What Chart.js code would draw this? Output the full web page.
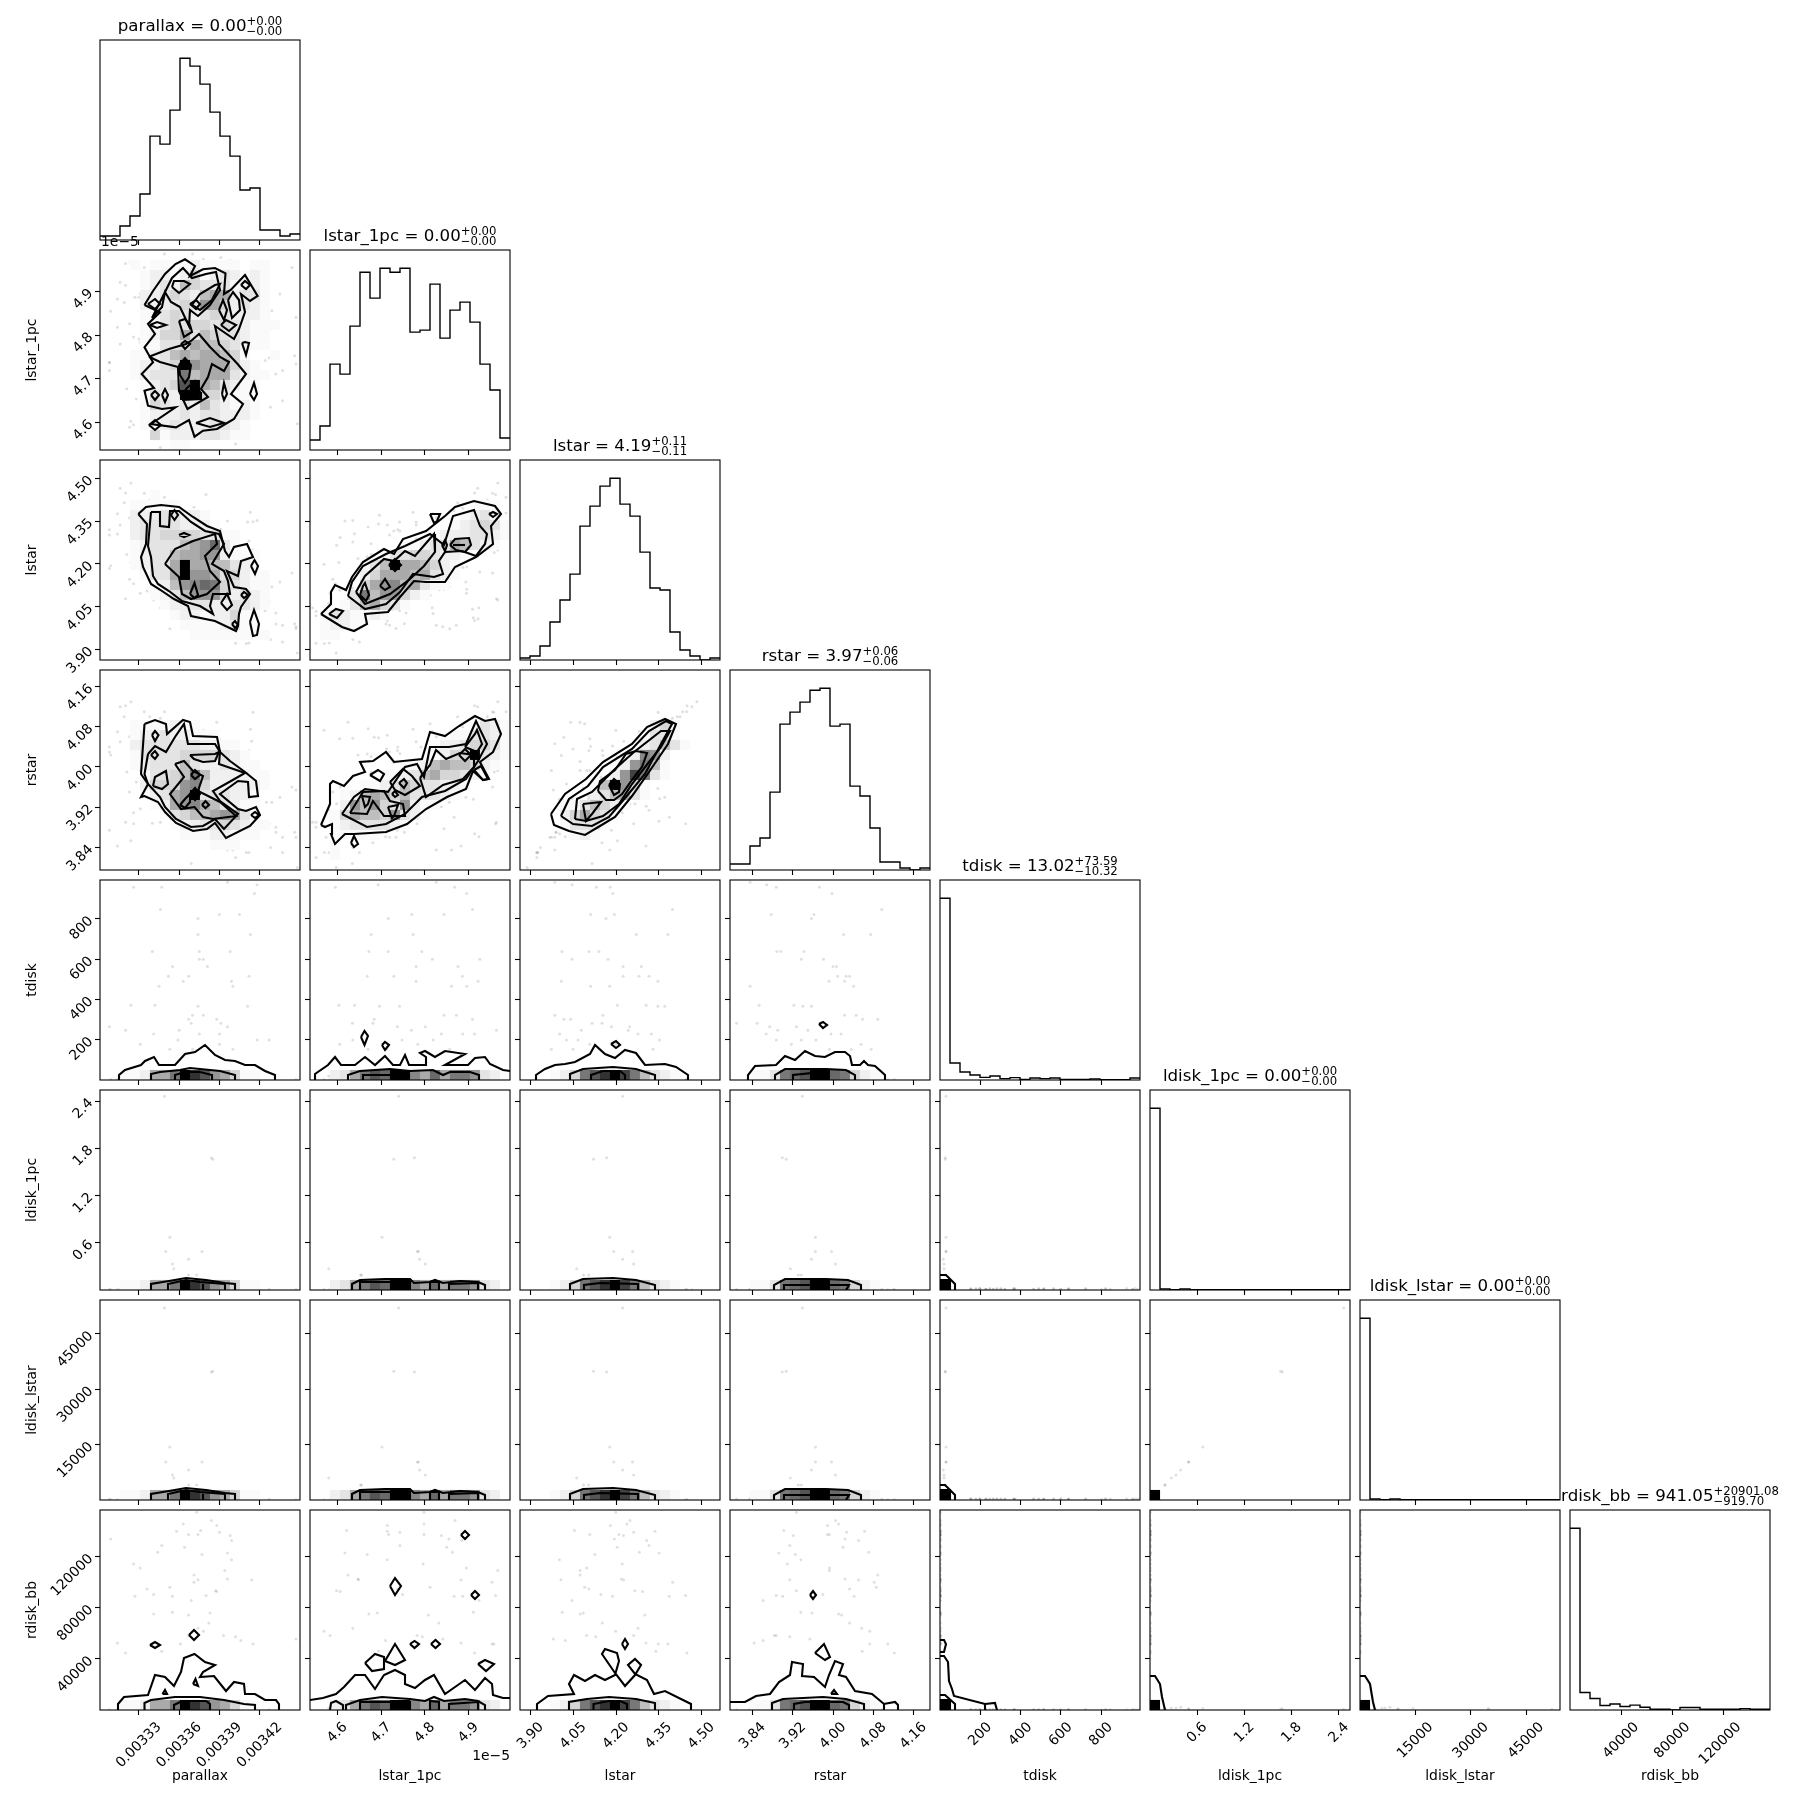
<!DOCTYPE html>
<html>
<head>
<meta charset="utf-8">
<title>corner plot</title>
<script src="https://cdn.jsdelivr.net/npm/chart.js@4"></script>
<style>
html, body { margin: 0; background: #fff; overflow: hidden; }
#corner { position: relative; width: 1809px; height: 1809px; }
canvas { position: absolute; }
</style>
</head>
<body>
<div id="corner"></div>
<script>
const names = ['parallax', 'lstar_1pc', 'lstar', 'rstar', 'tdisk', 'ldisk_1pc', 'ldisk_lstar', 'rdisk_bb'];
const titles = [
  ['parallax = 0.00', '+0.00', '\u22120.00'],
  ['lstar_1pc = 0.00', '+0.00', '\u22120.00'],
  ['lstar = 4.19', '+0.11', '\u22120.11'],
  ['rstar = 3.97', '+0.06', '\u22120.06'],
  ['tdisk = 13.02', '+73.59', '\u221210.32'],
  ['ldisk_1pc = 0.00', '+0.00', '\u22120.00'],
  ['ldisk_lstar = 0.00', '+0.00', '\u22120.00'],
  ['rdisk_bb = 941.05', '+20901.08', '\u2212919.70']
];
const tickLabels = [
  ['0.00333', '0.00336', '0.00339', '0.00342'],
  ['4.6', '4.7', '4.8', '4.9'],
  ['3.90', '4.05', '4.20', '4.35', '4.50'],
  ['3.84', '3.92', '4.00', '4.08', '4.16'],
  ['200', '400', '600', '800'],
  ['0.6', '1.2', '1.8', '2.4'],
  ['15000', '30000', '45000'],
  ['40000', '80000', '120000']
];
const ranges = [[0.003301, 0.00345], [4.537, 4.995], [3.863, 4.565], [3.795, 4.193], [0, 993], [0, 2.54], [0, 54200], [0, 156500]];

// marginal histograms, 20 bins each
const histParallax = [2, 2, 7, 12, 23, 52, 48, 65, 91, 87, 78, 64, 52, 42, 25, 26, 5, 5, 2, 3];
const histLstar1pc = [5, 12, 43, 38, 62, 89, 76, 91, 89, 91, 59, 60, 83, 56, 70, 74, 64, 43, 30, 6];
const histLstar = [1, 2, 7, 19, 30, 43, 67, 77, 87, 91, 78, 72, 54, 36, 35, 14, 5, 2, 0, 1];
const histRstar = [3, 3, 12, 16, 39, 73, 79, 84, 90, 91, 72, 73, 42, 37, 21, 4, 4, 1, 0, 1];
const histTdisk = [546, 51, 24, 15, 8, 12, 4, 7, 2, 6, 4, 6, 2, 2, 2, 3, 1, 1, 1, 6];
const histLdisk1pc = [546, 3, 1, 3, 1, 1, 1, 1, 1, 1, 1, 1, 1, 1, 1, 1, 1, 1, 1, 1];
const histLdiskLstar = [546, 3, 1, 3, 1, 1, 1, 1, 1, 1, 1, 1, 1, 1, 1, 1, 1, 1, 1, 1];
const histRdisk = [519, 50, 33, 13, 17, 10, 14, 8, 2, 2, 0, 7, 7, 2, 2, 2, 2, 4, 2, 2];
const hists = [histParallax, histLstar1pc, histLstar, histRstar, histTdisk, histLdisk1pc, histLdiskLstar, histRdisk];

// posterior samples: 11 bright-disk, 50 hot-disk, 52 wide-disk, then 44 samples with only stellar columns
const sampleParallax = [
  3.349, 3.385, 3.384, 3.353, 3.350, 3.377, 3.367, 3.355, 3.356, 3.367, 3.373,
  3.396, 3.418, 3.326, 3.347, 3.416, 3.346, 3.390, 3.405, 3.374, 3.374,
  3.413, 3.340, 3.375, 3.398, 3.375, 3.378, 3.355, 3.381, 3.352, 3.367,
  3.412, 3.363, 3.399, 3.345, 3.400, 3.324, 3.342, 3.374, 3.411, 3.370,
  3.378, 3.367, 3.388, 3.369, 3.391, 3.308, 3.396, 3.360, 3.341, 3.390,
  3.359, 3.427, 3.331, 3.390, 3.370, 3.400, 3.353, 3.375, 3.320, 3.418,
  3.373, 3.384, 3.363, 3.388, 3.376, 3.358, 3.390, 3.374, 3.367, 3.398,
  3.309, 3.399, 3.347, 3.364, 3.344, 3.396, 3.377, 3.399, 3.326, 3.331,
  3.394, 3.371, 3.374, 3.396, 3.414, 3.371, 3.353, 3.336, 3.387, 3.388,
  3.341, 3.327, 3.355, 3.380, 3.369, 3.355, 3.383, 3.341, 3.367, 3.382,
  3.374, 3.378, 3.367, 3.393, 3.402, 3.447, 3.406, 3.314, 3.361, 3.415, 3.347, 3.320,
  3.316, 3.324, 3.330, 3.334, 3.338, 3.349, 3.378, 3.385, 3.398, 3.415,
  3.417, 3.429, 3.425, 3.435, 3.444, 3.308, 3.314, 3.323, 3.316, 3.330,
  3.321, 3.328, 3.323, 3.308, 3.416, 3.424, 3.432, 3.446, 3.447, 3.437,
  3.437, 3.428, 3.412, 3.410, 3.402, 3.362, 3.355, 3.346, 3.448, 3.391,
  3.370, 3.391, 3.319, 3.432
];
const sampleLstar1pc = [
  4.740, 4.729, 4.776, 4.702, 4.783, 4.785, 4.788, 4.801, 4.580, 4.653, 4.655,
  4.826, 4.693, 4.595, 4.868, 4.896, 4.909, 4.770, 4.844, 4.716, 4.677,
  4.773, 4.672, 4.716, 4.793, 4.817, 4.926, 4.876, 4.780, 4.668, 4.729,
  4.886, 4.780, 4.922, 4.896, 4.861, 4.603, 4.639, 4.696, 4.742, 4.844,
  4.872, 4.684, 4.909, 4.634, 4.681, 4.737, 4.801, 4.769, 4.838, 4.887,
  4.819, 4.748, 4.784, 4.605, 4.670, 4.712, 4.857, 4.914, 4.964, 4.635,
  4.798, 4.869, 4.798, 4.714, 4.621, 4.714, 4.743, 4.798, 4.717, 4.838,
  4.855, 4.885, 4.743, 4.850, 4.863, 4.617, 4.668, 4.714, 4.796, 4.895,
  4.967, 4.624, 4.648, 4.647, 4.883, 4.954, 4.812, 4.737, 4.598, 4.606,
  4.749, 4.887, 4.867, 4.962, 4.924, 4.911, 4.691, 4.672, 4.808, 4.832,
  4.635, 4.569, 4.583, 4.782, 4.794, 4.841, 4.710, 4.883, 4.954, 4.958, 4.694, 4.914,
  4.921, 4.967, 4.887, 4.955, 4.943, 4.986, 4.974, 4.963, 4.971, 4.967,
  4.959, 4.856, 4.833, 4.894, 4.955, 4.738, 4.818, 4.826, 4.780, 4.791,
  4.677, 4.654, 4.589, 4.719, 4.726, 4.742, 4.757, 4.753, 4.734, 4.719,
  4.650, 4.635, 4.581, 4.570, 4.551, 4.551, 4.551, 4.543, 4.597, 4.574,
  4.986, 4.978, 4.875, 4.711
];
const sampleLstar = [
  4.223, 4.121, 4.167, 4.178, 4.192, 4.258, 4.223, 4.262, 4.062, 4.086, 4.104,
  3.985, 4.046, 4.131, 4.180, 4.189, 4.398, 4.194, 4.111, 4.165, 4.271,
  4.382, 4.140, 4.010, 4.105, 4.046, 4.172, 4.225, 4.289, 4.225, 4.316,
  4.281, 4.347, 4.008, 4.111, 4.178, 4.205, 4.306, 4.371, 4.347, 4.154,
  3.985, 4.017, 4.041, 4.116, 4.151, 4.184, 4.248, 4.243, 4.277, 4.324,
  4.026, 4.067, 4.199, 4.108, 4.330, 4.049, 3.973, 4.002, 4.078, 4.353,
  4.199, 4.249, 4.238, 4.180, 4.054, 4.337, 4.262, 4.108, 4.210, 4.226,
  4.194, 4.308, 4.316, 4.204, 4.282, 4.351, 4.126, 4.001, 4.222, 4.097,
  4.074, 4.074, 4.007, 4.219, 4.227, 4.399, 4.090, 4.105, 4.266, 4.293,
  4.147, 4.188, 4.387, 4.444, 4.046, 4.011, 4.085, 4.074, 4.301, 4.152,
  4.277, 4.199, 4.097, 4.262, 4.129, 3.980, 4.022, 4.305, 4.382, 4.348, 4.340, 4.449,
  4.466, 4.484, 4.396, 4.448, 4.425, 4.434, 4.349, 4.320, 4.296, 4.249,
  4.240, 4.120, 4.110, 4.137, 4.168, 4.320, 4.376, 4.361, 4.337, 4.309,
  4.233, 4.194, 4.146, 4.302, 4.040, 4.036, 4.028, 3.990, 3.974, 3.985,
  3.926, 3.935, 3.923, 3.921, 3.922, 4.018, 4.034, 4.046, 3.888, 3.968,
  4.379, 4.321, 4.415, 3.989
];
const sampleRstar = [
  3.939, 3.907, 3.899, 3.965, 3.965, 3.997, 3.957, 4.005, 3.915, 3.931, 3.937,
  3.835, 3.868, 3.887, 3.973, 3.998, 4.097, 3.962, 3.877, 3.957, 4.021,
  4.075, 3.888, 3.896, 3.942, 3.937, 3.981, 4.000, 4.007, 4.026, 4.009,
  4.033, 3.992, 4.023, 4.041, 3.835, 3.853, 3.922, 3.940, 3.957, 4.023,
  4.046, 4.059, 4.089, 3.808, 3.849, 3.874, 3.927, 3.950, 3.996, 4.016,
  3.966, 3.887, 3.917, 4.056, 4.076, 4.036, 3.993, 3.867, 3.890, 3.937,
  3.927, 4.005, 4.011, 3.989, 3.902, 4.063, 4.027, 3.993, 3.989, 3.921,
  4.024, 4.051, 3.914, 4.020, 4.071, 3.892, 3.925, 3.936, 3.909, 3.993,
  3.993, 4.089, 3.914, 4.024, 4.051, 4.082, 4.086, 4.033, 3.927, 3.960,
  3.980, 4.042, 3.900, 3.887, 3.861, 3.936, 3.958, 4.011, 4.017, 4.033,
  4.057, 4.073, 3.883, 3.887, 3.914, 3.954, 3.861, 3.843, 4.073, 4.109, 4.058, 4.122,
  4.12, 4.13, 4.08, 4.11, 4.10, 4.11, 4.06, 4.04, 4.03, 4.00,
  3.99, 3.93, 3.93, 3.94, 3.96, 4.04, 4.07, 4.06, 4.05, 4.04,
  3.99, 3.97, 3.95, 4.03, 3.89, 3.89, 3.88, 3.87, 3.86, 3.86,
  3.83, 3.84, 3.83, 3.83, 3.82, 3.88, 3.89, 3.89, 3.80, 3.86,
  4.07, 4.04, 4.10, 3.87
];
const sampleTdisk = [
  30, 26, 26, 30, 30, 30, 16, 20, 20, 25, 25,
  982, 970, 957, 957, 926, 846, 822, 822, 802, 723,
  723, 638, 638, 638, 599, 599, 564, 564, 515, 515,
  515, 490, 490, 465, 465, 371, 371, 366, 366, 322,
  322, 302, 302, 282, 282, 264, 264, 247, 228, 228,
  198, 198, 178, 178, 153, 153, 153, 228, 247, 198,
  2, 3, 2, 2, 3, 2, 2, 3, 2, 2, 3, 2, 2, 3, 2, 2, 3, 2, 2, 3, 2, 2, 3, 2, 2, 3,
  2, 2, 3, 2, 2, 3, 2, 2, 3, 2, 2, 3, 2, 2, 3, 2, 2, 3, 2, 2, 3, 2, 2, 3, 2, 2
];
const sampleLdisk1pc = [
  2.46, 1.66, 1.68, 0.67, 0.49, 0.49, 0.39, 0.33, 0.27, 0.19, 0.19,
  0.01, 0.02, 0.01, 0.01, 0.02, 0.01, 0.01, 0.02, 0.01, 0.01,
  0.02, 0.01, 0.01, 0.02, 0.01, 0.01, 0.02, 0.01, 0.01, 0.02,
  0.01, 0.01, 0.02, 0.01, 0.01, 0.02, 0.01, 0.01, 0.02, 0.01,
  0.01, 0.02, 0.01, 0.01, 0.02, 0.01, 0.01, 0.02, 0.01, 0.01,
  0.02, 0.01, 0.01, 0.02, 0.01, 0.01, 0.02, 0.01, 0.01, 0.02,
  0.005, 0.004, 0.005, 0.006, 0.004, 0.005, 0.006, 0.004, 0.005, 0.006, 0.004, 0.005, 0.006,
  0.004, 0.005, 0.006, 0.004, 0.005, 0.006, 0.004, 0.005, 0.006, 0.004, 0.005, 0.006, 0.004,
  0.005, 0.006, 0.004, 0.005, 0.006, 0.004, 0.005, 0.006, 0.004, 0.005, 0.006, 0.004, 0.005,
  0.006, 0.004, 0.005, 0.006, 0.004, 0.005, 0.006, 0.004, 0.005, 0.006, 0.004, 0.005, 0.006, 0.004
];
const sampleLdiskLstar = [
  52000, 34900, 34700, 14350, 10300, 10300, 8100, 6770, 5960, 4060, 4060,
  250, 300, 220, 260, 310, 240, 280, 300, 230, 270,
  250, 300, 220, 260, 310, 240, 280, 300, 230, 270,
  250, 300, 220, 260, 310, 240, 280, 300, 230, 270,
  250, 300, 220, 260, 310, 240, 280, 300, 230, 270,
  250, 300, 220, 260, 310, 240, 280, 300, 230, 270,
  90, 80, 100, 70, 90, 110, 80, 90, 100, 70, 80, 90, 110,
  90, 80, 100, 70, 90, 110, 80, 90, 100, 70, 80, 90, 110,
  90, 80, 100, 70, 90, 110, 80, 90, 100, 70, 80, 90, 110,
  90, 80, 100, 70, 90, 110, 80, 90, 100, 70, 80, 90, 110
];
const sampleRdisk = [
  500, 700, 900, 1200, 1000, 800, 2100, 1600, 1400, 900, 800,
  180, 200, 210, 190, 220, 180, 200, 210, 190, 220,
  180, 200, 210, 190, 220, 180, 200, 210, 190, 220,
  180, 200, 210, 190, 220, 180, 200, 210, 190, 220,
  180, 200, 210, 190, 220, 180, 200, 210, 190, 220,
  180, 200, 210, 190, 220, 180, 200, 210, 190, 220,
  154800, 148200, 145600, 144300, 140400, 139900, 139100, 137300, 137300, 136500,
  133900, 132600, 128700, 127400, 123500, 122900, 121600, 117500, 114300, 111200,
  109100, 105700, 102000, 102600, 101800, 100000, 96000, 94700, 93400, 92700,
  90300, 89000, 89000, 89500, 85600, 76500, 75900, 75200, 74400, 68100,
  63900, 61600, 58200, 58200, 57400, 55600, 54300, 52500, 51700, 51700, 45900, 44600
];
const samples = [sampleParallax.map(v => v / 1000), sampleLstar1pc, sampleLstar, sampleRstar, sampleTdisk, sampleLdisk1pc, sampleLdiskLstar, sampleRdisk];

// 2d histogram shades, one hex digit per bin (0 white, f black), rows listed from the top
const grid10 = ['00000000000000000000', '00010110121111011000', '00001221241232121000', '00001232543331221000', '00002234325662331000',
  '00002223437642321000', '00001134323432221000', '00001134344343211100', '00001244635433211000', '00001133465543211000',
  '00011235656654100100', '00012234f76664210000', '00012333956663211000', '00001234bf6532110000', '00001322ff4421100000',
  '00001432325321210000', '00001222323322210000', '00001123222332100000', '00000412223321100000', '00000001100000000000'];
const grid20 = ['00000000000000000000', '00000000000000000000', '00000000000000000000', '00000100000000000000', '00011111000000000000',
  '00022233221000000000', '00023333222100000000', '00023344443311000000', '00012333567a31000000', '00012335667721110000',
  '00012336f66553210000', '00001336f77634211000', '0000012578a943211000', '00000123577742321000', '00000012233223321000',
  '00000001221224110000', '00000000111123110000', '00000000011111111000', '00000000000000000000', '00000000000000000000'];
const grid21 = ['00000000000000000000', '00000000000000000000', '00000000000000000000', '00000000000000000000', '00000000000000001110',
  '00000000000000012310', '00000000000000123431', '00000000000012223321', '00000000011233653210', '00000001334432211000',
  '00000135f66542100000', '00000246665632100000', '00000467856311000000', '00003957742100000000', '00013564310000000000',
  '01321121000000000000', '01221100000000000000', '01100000000000000000', '00000000000000000000', '00000000000000000000'];
const grid30 = ['00000000000000000000', '00000000000000000000', '00000000000000000000', '00000000000000000000', '00000000000000000000',
  '00011112110000000000', '00012232211100000000', '00023333332211000000', '00013333444432100000', '00012333532232110000',
  '00001334595222211000', '00002444784222221000', '000012367f3332210000', '00000126786532110000', '00000013455676310000',
  '00000001223343211000', '00000000111221110000', '00000000000111000000', '00000000000000000000', '00000000000000000000'];
const grid31 = ['00000000000000000000', '00000000000000000000', '00000000000000000000', '00000000000000000000', '00000000000000000000',
  '00000000000000001321', '00000000000000113321', '00000000000012234431', '0000000000000244f321', '00000000011256554210',
  '00000001123564432100', '00000112354332210000', '00012565453332100000', '00027574372110000000', '00146554732100000000',
  '00123333210000000000', '00111110000000000000', '00100000000000000000', '00100000000000000000', '00000000000000000000'];
const grid32 = ['00000000000000000000', '00000000000000000000', '00000000000000000000', '00000000000000000000', '00000000000000000000',
  '00000000000002410000', '00000000000013310000', '00000000000023531000', '00000000000287200000', '00000000012795100000',
  '00000000027c93100000', '000000005f7410000000', '00000002356310000000', '00001135421000000000', '00002464310000000000',
  '00001333100000000000', '00000121000000000000', '00000000000000000000', '00000000000000000000', '00000000000000000000'];
// shade of the lowest row of the panels that hug the bottom axis
const stripParallax = '00112669fdb764110000';
const stripLstar1pc = '002369baff86a6997320';
const stripLstar = '0001249bdfc953210000';
const stripRstar = '001139abffa942100000';
const stripDisk = 'f0000000000000000000';
const shades = [255, 250, 240, 228, 214, 190, 170, 150, 135, 120, 105, 85, 65, 50, 30, 0];

// contour polylines in histogram-bin units (u along x, v along y, 0..20)
const contour10 = [
  [[4.45,14.5],[5.3,15.9],[6.5,17.6],[7.55,18.6],[8.5,19.07],[9.5,18.4],[9,17.4],[10.3,18.07],[11.5,18.2],[12.55,17.67],[12.4,15.6],[13.07,16],[14.5,17.5],[15.76,15.4],[15,14.9],[14.1,15.6],[14.5,13.8],[13.9,12.1],[13.4,11.1],[11.5,12.4],[11.9,10.6],[13.76,8.6],[14.6,7.6],[13.1,5.6],[14.3,4.6],[13.4,3.1],[11.7,2.1],[10.3,1.93],[9.45,1.33],[8.9,3],[7.6,2.27],[5.1,2.6],[7.55,4.27],[6.2,4.1],[4.8,4.43],[4.45,5.93],[5.4,6.2],[4.17,7.6],[5.3,8.77],[4.45,10.27],[5.5,11.6],[4.8,12.6],[6,13.77],[4.45,14.5]],
  [[5.2,13.2],[6.4,15.6],[7.2,17.2],[8.3,18.2],[9.2,17.2],[10.6,17.6],[11.6,17.8],[12,16],[11,14.5],[9.8,13.4],[9,14],[8.9,12.4],[8,14.3],[7.1,14.8],[6.5,15.8],[6.2,14.3],[5.2,13.2]],
  [[4.9,9.33],[6.9,10.1],[8.6,10.6],[9.1,10.9],[9.9,11.6],[11,10.3],[12,9.3],[12.9,8.8],[12.4,7.9],[11.2,8.6],[10.8,7.3],[10.1,6.1],[10.8,5.3],[8.75,4.1],[7.9,5.9],[7.8,8.3],[6,8.8],[4.9,9.33]],
  [[7.9,12.9],[8.5,13.1],[9,12.5],[9.2,11.8],[8.4,11.3],[7.9,12.9]],
  [[8.1,10.6],[8.5,10.9],[9,10.6],[8.5,10.1],[8.1,10.6]],
  [[7.9,8.5],[8.5,9.2],[9.1,8.5],[8.9,7.3],[8.5,6.7],[8,7.5],[7.9,8.5]],
  [[8.1,5.4],[8.7,6.2],[9.5,6.9],[10,5.8],[10.1,5.1],[8.3,5],[8.1,5.4]],
  [[14.2,10.7],[14.5,10.8],[14.9,10.7],[14.6,9.5],[14.2,10.7]],
  [[15,5.6],[15.4,6.7],[15.7,5.6],[15.4,5],[15,5.6]],
  [[12.2,5.6],[12.4,6.7],[12.7,5.6],[12.4,5],[12.2,5.6]],
  [[6.2,5.5],[6.5,6.1],[6.8,5.5],[6.5,4.8],[6.2,5.5]],
  [[5.1,5.5],[5.5,5.9],[5.9,5.5],[5.5,5],[5.1,5.5]],
  [[4.9,2.5],[5.5,3],[6.1,2.5],[5.5,2],[4.9,2.5]],
  [[4.8,14.6],[5.5,15.1],[6,14.6],[5.5,14.1],[4.8,14.6]],
  [[5,12.5],[5.7,12.8],[6.6,12.5],[5.7,12.2],[5,12.5]],
  [[9,14.6],[9.6,15],[10,14.6],[9.6,14.1],[9,14.6]],
  [[12.1,12.5],[12.6,13],[13.6,12.5],[12.9,11.9],[12.1,12.5]],
  [[14.1,16.5],[14.5,16.9],[15,16.5],[14.6,16.1],[14.1,16.5]],
  [[9.6,2.7],[11,3.2],[12.4,2.7],[11,2.3],[9.6,2.7]],
  [[12.8,15],[13.3,15.8],[13.9,15],[14,14],[13.2,13.2],[12.8,15]],
  [[11.9,14],[12.3,15],[12.7,14],[12.4,13],[11.9,14]],
  [[7.2,16.3],[7.4,16.9],[8.4,16.9],[9,16.6],[7.9,15.7],[7.2,16.3]],
  [[9.2,14.5],[10,15.6],[11.5,16.5],[12,16.6],[11.2,15],[10,14],[9.2,14.5]]
];
const contour20 = [
  [[3.83,14.6],[4.6,15.3],[6.1,15.5],[7.9,15.3],[9.3,14.3],[10.7,13.4],[12,12.9],[12.5,10.9],[12.9,10.3],[13.4,11.3],[14.7,11.6],[15.3,10.3],[14.1,9.9],[13.8,8.4],[12.7,8.9],[13.4,7.3],[14.6,7.1],[15,6.6],[14.1,5.3],[13.9,4.6],[13.8,3.4],[13.6,2.9],[11.5,3.9],[9.1,4.4],[8.8,5.4],[7.4,6.1],[6.2,6.9],[5.1,7.6],[4.3,9.3],[4.1,10.3],[4.6,11.6],[4.7,13.6],[3.83,14.6]],
  [[5.1,14.8],[6,14.8],[6,13.4],[6.9,13.3],[7,14.9],[7.9,14.9],[9.1,13.8],[10.5,12.9],[11.9,12.6],[12.4,11.6],[11.2,9.6],[12.4,8.9],[12.8,7.9],[13,6.6],[11.3,6.6],[11,5.4],[11.3,4.6],[10,5.4],[8.2,5.9],[6.9,6.9],[5.8,7.6],[5.3,8.4],[5.1,10.3],[4.8,11.4],[5.1,14.8]],
  [[6.5,9.6],[7.5,11.1],[9.3,11.9],[11.5,12.6],[11.7,11.6],[10.5,10.4],[11,8.9],[12,7.8],[10.7,6.6],[9.1,6.1],[8.2,6.6],[7.9,8.3],[6.5,9.6]],
  [[7.1,14.5],[7.45,15],[7.8,14.5],[7.45,14],[7.1,14.5]],
  [[7.9,12.5],[8.4,12.7],[8.9,12.5],[8.4,12.3],[7.9,12.5]],
  [[9,6.6],[9.45,7.7],[9.8,6.5],[9.45,6.2],[9,6.6]],
  [[15.1,9.4],[15.45,10],[15.8,9.4],[15.5,8.6],[15.1,9.4]],
  [[14.1,6.5],[14.4,6.8],[14.8,6.5],[14.4,6.2],[14.1,6.5]],
  [[12.1,5.7],[12.7,6.6],[13.2,5.5],[12.7,5],[12.1,5.7]],
  [[13.2,3.6],[13.5,3.9],[13.8,3.5],[13.5,3.2],[13.2,3.6]],
  [[15,3.8],[15.4,5],[15.9,3.6],[15.7,2.5],[15.3,2.4],[15,3.8]]
];
const contour21 = [
  [[1.1,4.6],[2.1,5.6],[2.1,6.8],[2.5,7.5],[3.6,7],[4.2,8.3],[5.3,9.8],[7.4,11.1],[8.4,10.6],[9.3,12.1],[11.6,12.9],[13.5,14.4],[14.5,15.3],[16.4,15.9],[18.5,15.4],[19.1,14.6],[18.1,13.4],[18.3,11.6],[16.6,10.3],[14.5,9.3],[13.5,7.8],[11.6,7.8],[10.4,7.9],[9,6.3],[7.8,4.8],[5.5,4.6],[5.7,3.6],[4.4,2.9],[3.2,3.3],[1.1,4.6]],
  [[3.8,6.4],[4.2,7.8],[5.3,9.4],[7.6,10.6],[9.5,11.4],[12,12.6],[13.4,11.5],[14.3,14.4],[16.4,15],[17,13.4],[17.7,12.6],[17.5,11.6],[16.6,10.4],[15.2,10.9],[13.5,10.8],[12.9,9.9],[13.3,8.6],[12.4,8.3],[10.3,8.6],[9,6.8],[7.6,5.6],[5.5,5.1],[3.8,6.4]],
  [[4.6,6.8],[5.5,8.4],[7.4,10.1],[8.4,9.9],[9.5,10.9],[10.5,10.4],[12.4,12.6],[12.5,10.8],[11.4,9.4],[10,8.1],[8,6.6],[5.5,5.6],[4.6,6.8]],
  [[5,6.5],[5.3,7.4],[5.5,7.7],[5.9,6.5],[5.6,5.9],[5,6.5]],
  [[7.9,9.5],[8.5,10.1],[9.1,9.5],[8.5,8.9],[7.9,9.5]],
  [[7,7.4],[7.5,8.1],[8,7.3],[7.5,7],[7,7.4]],
  [[1.9,4.6],[2.6,5.1],[3.3,4.9],[2.7,4.2],[1.9,4.6]],
  [[12,14.6],[13,14.6],[12.7,13.9],[12.4,13.7],[12,14.6]],
  [[13.2,11.5],[13.5,12],[13.7,11.5],[13.5,10.9],[13.2,11.5]],
  [[14,11.5],[14.5,12.1],[15.9,12.2],[16.1,11.5],[15.5,10.8],[14.6,11],[14,11.5]],
  [[14.3,11.5],[15.5,11.5]],
  [[17.9,14.6],[18.3,14.8],[18.7,14.6],[18.3,14.3],[17.9,14.6]]
];
const contour30 = [
  [[4.45,14.6],[5.5,15],[6.6,14.6],[6.7,13.6],[8.3,15],[9,14.8],[9.3,13.4],[11.7,13.3],[12,11.8],[13,10.9],[14.5,9.8],[15.6,8.9],[15.8,7.4],[14.9,7.3],[14.8,8.8],[13.8,8.9],[12,7.6],[13.8,6.1],[14.6,5.9],[15.6,6.3],[16,5.5],[15,4.4],[12.6,3.2],[11.5,4.7],[10.7,4.1],[9.3,3.9],[7.6,4.7],[6.5,5.8],[5.8,6.8],[4.45,7.4],[4.1,7.3],[4.8,8.6],[4.1,9.6],[4.45,14.6]],
  [[4.8,11.6],[5.5,12.4],[6.6,11.8],[7.5,13.3],[8.4,14.6],[8.8,12.6],[10.3,12.6],[11.5,12.6],[12,11.8],[11.9,10.6],[14.5,9.7],[13.1,8.9],[11.3,7.9],[12,6.9],[13.8,5.6],[12.4,4.1],[11.5,5.1],[10.3,4.4],[9.1,4.3],[7.6,5.1],[6.5,6.3],[6,7.3],[4.8,8.6],[4.45,9.6],[4.8,11.6]],
  [[7.5,10.6],[8.4,10.9],[9.3,9.9],[10.3,9.4],[9.8,7.9],[12,6.8],[13.6,5.4],[11.3,5.1],[10.3,5.3],[9.45,6.3],[8.1,6.1],[7,7.6],[8.4,9.3],[7.5,10.6]],
  [[9,11.5],[11.5,11.6],[11.9,11.8],[11.5,10.9],[10.3,10.8],[9.4,11.1],[9,11.5]],
  [[5.2,13.5],[5.5,13.9],[5.85,13.5],[5.5,12.9],[5.2,13.5]],
  [[5.1,11.5],[5.5,11.9],[5.8,11.5],[5.5,11.1],[5.1,11.5]],
  [[5.3,8.4],[5.5,9.3],[6.6,9.9],[6.8,8.6],[6.2,8.1],[5.3,8.4]],
  [[9.1,9.5],[9.5,10],[10,9.5],[9.5,9.1],[9.1,9.5]],
  [[9,7.6],[9.5,8.2],[10,7.6],[9.5,7],[9,7.6]],
  [[8,6.5],[8.5,7.1],[9,7.6],[9,6.8],[8.5,6.2],[8,6.5]],
  [[10.2,6.5],[10.55,6.9],[10.9,6.5],[10.55,6.2],[10.2,6.5]],
  [[15.1,5.5],[15.5,5.8],[15.9,5.5],[15.5,5.2],[15.1,5.5]]
];
const contour31 = [
  [[1.1,4.5],[2,6.6],[2,8.6],[2.3,8.9],[3.4,8.4],[4.3,9.4],[5.5,9.8],[5,10.8],[6.3,10.9],[7.6,11.8],[8.4,10.8],[11.2,11.1],[12,13.8],[13.5,13.4],[14.9,14.4],[16.5,15.4],[17.5,14.9],[18.5,15.1],[19.1,13.6],[18.3,11.8],[17,10.8],[17.9,9.1],[17.3,9],[16.3,9.9],[15.6,8.1],[13.7,7.3],[11.6,6.1],[9.7,4.6],[7.6,3.8],[4.4,3.6],[3.5,3.6],[2.5,2.6],[2.1,3.6],[2.2,4.6],[1.5,4.3],[1.1,4.5]],
  [[3.2,5.6],[4.4,7.3],[5.5,8.1],[7.8,7.8],[9.5,10.3],[10.7,10.6],[11.4,9.3],[12,12.3],[13.9,12.3],[15.6,12.6],[16.6,14.9],[17.7,12.6],[16.8,10.9],[15.6,9.1],[13.5,7.9],[11.2,7.3],[9.5,5.6],[7.6,4.6],[5.7,4.3],[3.2,5.6]],
  [[4,5.7],[5.3,7.8],[7.4,7.9],[8,6.9],[9.3,6.6],[9.5,5.4],[7.4,5.4],[6.3,6.9],[5.7,5.6],[4,5.7]],
  [[8,8.8],[9.3,10.1],[10.2,9.4],[11,8.4],[9.5,7.5],[8.5,8],[8,8.8]],
  [[11,9.2],[12,10.5],[12.6,12],[13.6,11.1],[15,11.7],[16.4,11.5],[16.4,10.3],[15.3,9.1],[13.3,8.5],[11.6,7.3],[11,9.2]],
  [[6,9.5],[6.8,10],[7.4,9.6],[7,8.9],[6,9.5]],
  [[8.9,8.7],[9.4,9.1],[9.7,8.7],[9.4,8.2],[8.9,8.7]],
  [[8.2,7.6],[8.5,7.9],[8.8,7.5],[8.5,7.3],[8.2,7.6]],
  [[5.2,7.4],[6,7.3],[5.8,6.6],[5.5,6.3],[5.2,7.4]],
  [[7.8,6.3],[8.8,6.5],[8.4,5.4],[8.2,5.2],[7.8,6.3]],
  [[14.9,11.5],[15.5,12.1],[16.1,11.5],[15.5,10.9],[14.9,11.5]],
  [[4.1,2.7],[4.4,3.4],[4.8,2.6],[4.4,2.3],[4.1,2.7]],
  [[16.4,10],[17.1,10.4],[17.8,9.1],[17.3,9],[16.4,10]],
  [[15.5,12.3],[16.5,13.6],[16.7,14],[17.2,12.6],[16.7,11.8],[15.5,12.3]]
];
const contour32 = [
  [[3.1,5.6],[4.5,7.6],[6.6,9.1],[8.3,10.8],[11.2,12.6],[12.7,14.3],[14.5,15.1],[15.6,14.6],[14.8,12.6],[12.9,9.8],[11.2,7.4],[9.5,5.3],[8,4.4],[6.5,3.5],[4.9,3.9],[3.4,4.5],[3.1,5.6]],
  [[4.1,5.4],[4.9,7.1],[6.8,8.4],[8.3,10.3],[11.2,12.1],[12.9,13.9],[14.6,14.9],[15.2,14.6],[14.1,12.6],[12.5,9.6],[10.6,7.3],[8.9,5.3],[7.2,4.4],[5.3,4.6],[4.1,5.4]],
  [[5.5,5.1],[5.7,7.1],[7.2,7.8],[8,8.6],[9.5,10.1],[11.4,11.8],[14.1,13.9],[15,13.9],[14.1,12.3],[12.9,10.8],[11.2,8.6],[9.9,6.6],[8.3,5.4],[6.6,4.9],[5.5,5.1]],
  [[7.8,7.9],[8,8.9],[9.5,10],[10.6,11.6],[11.6,11.9],[12.7,11.7],[12.2,10.3],[11.2,9],[10.2,7.6],[9.4,7],[8.6,7],[7.8,7.9]],
  [[8.9,8.5],[9.4,9.1],[10,8.6],[9.9,7.8],[9.4,7.5],[8.9,8.5]],
  [[6.3,6.6],[8.1,6.8],[7.2,5.6],[6.6,4.9],[6.3,6.6]]
];
const contour40 = [
  [[1.9,0],[1.9,.5],[2.5,1],[4.1,1.5],[4.5,1.9],[5.4,2.3],[5.9,1.5],[7.5,1.5],[8.5,2.6],[9.5,2.8],[10.5,3.5],[11.5,2.5],[12.5,2],[13.5,1.9],[14.5,1.5],[15.5,1.5],[16.5,.9],[17.5,.5],[17.5,0]],
  [[5.1,0],[5.1,.6],[6,.8],[8,1],[9,1.2],[10,1.1],[12,.9],[13.5,.5],[13.5,0]],
  [[7.5,0],[7.5,.5],[8.5,.8],[10,.8],[11.2,.5],[11.2,0]]
];
const contour41 = [
  [[.5,0],[.5,.6],[1.8,1.5],[2.5,2.3],[3.1,1.5],[4.5,1.5],[5.5,2.3],[6.5,1.5],[7.5,2.4],[8.3,1.5],[9,1.5],[9.5,2.5],[9.9,1.5],[11.6,1.5],[11.6,2.3],[11,2.7],[11.5,2.9],[12.5,2.3],[13.5,2.9],[15.5,2.6],[13.5,1.5],[15.8,1.5],[16.5,2.2],[17.5,2.3],[18,1.6],[19.3,1],[20,.9]],
  [[3.8,0],[3.8,.5],[5,.9],[8,1.1],[10,.9],[12.3,1],[13.3,.5],[14,.8],[16,.8],[16.9,.5],[16.9,0]],
  [[5.3,0],[5.3,.5],[9.9,.5],[9.9,0]],
  [[5.1,4.3],[5.45,4.9],[5.8,4.4],[5.45,3.5],[5.1,4.3]],
  [[7.2,3.5],[7.5,3.8],[7.9,3.5],[7.5,3],[7.2,3.5]]
];
const contour42 = [
  [[1.6,0],[1.6,.5],[2.5,1.1],[3.5,1.5],[4.5,1.6],[5.5,1.8],[7,2.6],[7.5,3.5],[8.5,2.6],[9.5,2.2],[10.5,3],[11.6,2.7],[12.5,1.5],[14.5,1.6],[15.6,1.3],[16.8,.5],[16.8,0]],
  [[5,0],[5,.6],[6.3,1.1],[9.3,1.3],[11.6,1.1],[13.5,.5],[13.5,0]],
  [[7.1,0],[7.1,.5],[8.3,.9],[10,.9],[10.5,.5],[10.5,0]],
  [[9.1,3.6],[9.6,3.9],[10,3.5],[9.6,3.2],[9.1,3.6]]
];
const contour43 = [
  [[1.8,0],[1.8,.5],[2.5,1.4],[4.6,1.5],[5.5,2.4],[6.5,2],[7.5,2.9],[8.5,2.4],[9.5,2.3],[10.5,2.8],[11.5,2.8],[12,2.4],[12.2,1.5],[13,1.5],[13.4,1.9],[13.8,1.5],[14.5,1.4],[15.5,.5],[15.5,0]],
  [[4.5,0],[4.5,.5],[5.5,1.1],[9.6,1.1],[11.6,1],[12.5,.5],[12.5,0]],
  [[6.3,0],[6.3,.5],[9.3,.8],[9.5,0]],
  [[8.9,5.6],[9.3,5.8],[9.7,5.5],[9.3,5.2],[8.9,5.6]]
];
const dome0 = [
  [[5.1,0],[5.1,.6],[6.9,.9],[8.6,1.2],[10.6,1],[12.5,.7],[13.5,.6],[13.5,0]],
  [[6.8,0],[6.8,.6],[8.6,1],[10,.8],[12.5,.6],[12.5,0]],
  [[10.3,0],[10.3,.6]]
];
const dome1 = [
  [[4.2,0],[4.2,.6],[5,1],[7.5,1.1],[10,1.1],[10.4,.7],[12,.8],[12.5,1],[13.3,.7],[15,.9],[16.8,.8],[17.5,.5],[17.5,0]],
  [[5,0],[5,.8],[10,.8],[10,0]],
  [[12,0],[12,.8],[12.9,.8],[12.9,0]],
  [[13.9,0],[13.9,.6],[16.8,.7],[16.8,0]]
];
const dome2 = [
  [[5,0],[5,.6],[6.3,1.1],[9.3,1.2],[11.6,1],[13.5,.5],[13.5,0]],
  [[6.4,0],[6.4,.5],[8,.7],[11.8,.6],[11.8,0]]
];
const dome3 = [
  [[4.4,0],[4.4,.5],[5.5,1.1],[9.6,1.1],[11.8,1],[13.1,.5],[13.1,0]],
  [[5.4,0],[5.4,.5],[10,.5],[11.9,.5],[11.6,0]]
];
const contour70 = [
  [[1.8,0],[1.8,.6],[2.4,1.3],[4.8,1.5],[5.5,3.5],[6.5,3.3],[7.4,2.4],[8.1,3.8],[8.4,5.2],[9.45,5.6],[10.5,4.8],[11.5,4.5],[10.3,3.8],[10,3.3],[11.4,3.4],[12.6,1.9],[13.4,2.8],[14.4,2.6],[14.5,1.6],[15.5,1.6],[16.5,1],[17.6,1],[17.9,.6],[17.9,0]],
  [[4.45,0],[4.45,.7],[5.1,1],[7.5,1.3],[10,1.3],[12.4,1],[14.4,.6],[15.5,.5],[15.5,0]],
  [[7.4,0],[7.4,.5],[8.2,.9],[10.6,.9],[11,.6],[11,0]],
  [[5,6.5],[5.5,6.8],[6,6.5],[5.5,6.2],[5,6.5]],
  [[8.9,7.5],[9.4,8],[9.9,7.5],[9.4,7],[8.9,7.5]],
  [[9.3,2.6],[9.55,3.1],[9.8,2.4],[9.3,2.6]],
  [[6.25,1.6],[6.5,2],[6.7,1.6],[6.25,1.6]]
];
const contour71 = [
  [[0,1],[1.3,1.2],[2.6,1.6],[3.4,2.3],[4.5,3.5],[5.5,3.5],[6.5,2.1],[7.4,3.5],[8.5,4],[9.5,3.5],[9.5,2.6],[10.5,2.2],[11.5,3],[12.4,3.5],[13.5,1.6],[15.5,3],[16.5,2],[17.5,3.2],[18.2,2.6],[18.3,1.5],[19.3,1.2],[20,1.2]],
  [[2,0],[2.1,.7],[2.6,.9],[3.3,.5],[3.3,0]],
  [[3.6,0],[3.6,.5],[5,1],[7.2,1.3],[10,1.1],[11.5,.9],[12.4,1.3],[13.4,.9],[15.5,1.1],[16.8,.9],[17.5,.5],[17.5,0]],
  [[5,0],[5,.8],[10,.8],[10,0]],
  [[12,0],[12,.9],[12.9,.8],[12.9,0]],
  [[13.9,0],[13.9,.6],[16.8,.8],[16.8,0]],
  [[8,12.4],[8.5,13.2],[9.1,12.4],[8.5,11.5],[8,12.4]],
  [[15.1,17.5],[15.5,17.9],[15.9,17.5],[15.5,17.1],[15.1,17.5]],
  [[16.1,11.5],[16.5,11.9],[16.9,11.5],[16.5,11.1],[16.1,11.5]],
  [[10,6.6],[10.45,6.9],[10.9,6.6],[10.45,6.2],[10,6.6]],
  [[12.1,6.6],[12.55,7],[13,6.6],[12.55,6.2],[12.1,6.6]],
  [[16.8,4.6],[17.5,5],[18.4,4.6],[17.6,3.9],[16.8,4.6]],
  [[5.5,4.7],[6.5,5.6],[7.4,5.3],[7.4,4.1],[6.2,3.9],[5.5,4.7]],
  [[7.5,4.9],[8.5,6.6],[9.5,5],[8.5,4.5],[7.5,4.9]]
];
const contour72 = [
  [[1.7,0],[1.7,.6],[2.8,1.4],[5.4,1.6],[4.9,2.6],[5.4,3.5],[6.5,2.9],[7.5,3.5],[8.5,3],[9.5,3.5],[9.9,4.9],[9.7,5.7],[8.5,6.1],[8.2,5.6],[9.5,3.7],[10.5,2.4],[11.5,3.5],[12.1,4.5],[11.5,5.1],[10.8,4.5],[11.5,3.6],[12.7,3],[13.4,1.6],[14.5,1.9],[17.1,.6],[17.1,0]],
  [[4.9,0],[4.9,.8],[6.7,1.1],[8.9,1.3],[11.6,1.1],[13.5,.7],[13.5,0]],
  [[7.35,0],[7.35,.6],[8.9,.9],[10,.9],[10.7,.6],[10.7,0]],
  [[10.2,6.6],[10.5,7.1],[10.8,6.6],[10.5,6.1],[10.2,6.6]]
];
const contour73 = [
  [[0,.8],[1.5,.8],[2.6,1.4],[4,1.6],[4.9,2.8],[6,3.5],[6.2,4.8],[7.3,4.6],[7.2,3.4],[8.4,3.3],[9.5,2.3],[9.9,3.5],[10.5,4.9],[11.3,4.6],[10.9,3.5],[11.6,3.3],[12.5,1.9],[14.2,1.6],[15.4,.6],[16.5,.8],[16.8,.5],[16.8,0]],
  [[15.4,0],[15.4,.6]],
  [[4.2,0],[4.2,.7],[5.3,1.1],[9.3,1.3],[11.6,1.1],[13.4,.6],[13.4,0]],
  [[6.4,0],[6.4,.6],[7.5,.8],[11.3,.8],[11.9,.5],[11.9,0]],
  [[8,11.5],[8.3,11.9],[8.6,11.5],[8.3,11.1],[8,11.5]],
  [[8.5,5.7],[9.4,6.6],[10,5.3],[9.5,5],[8.5,5.7]],
  [[10.1,1.6],[10.4,2],[10.7,1.6],[10.1,1.6]]
];
const contour54 = [[[0,1.5],[.6,1.5],[1.5,.6],[1.5,0]], [[0,1],[1,1],[1,0]]];
const contour64 = [[[0,1.5],[.5,1.5],[1.5,.5],[1.5,0]], [[0,1],[1,1],[1,0]]];
const contour74 = [
  [[0,5.4],[.4,5.4],[.8,4.8],[.9,2.9],[1.2,2.1],[1.4,1.4],[4.5,.6],[5.5,.7],[5.7,0]],
  [[4.5,0],[4.5,.6]],
  [[0,7],[.4,7],[.6,6.6],[.4,5.8],[0,5.8]],
  [[0,1.5],[.5,1.5],[1.5,.6],[1.5,0]],
  [[0,1],[1,1],[1,0]]
];
const contour75 = [[[0,3.4],[.5,3.4],[1,2.6],[1.2,1.3],[1.5,0]]];
const contour76 = [[[0,3.4],[.5,3.4],[1,2.6],[1.3,.8],[1.5,0]]];

const panelGrids = { '1,0': grid10, '2,0': grid20, '2,1': grid21, '3,0': grid30, '3,1': grid31, '3,2': grid32 };
const panelContours = {
  '1,0': contour10, '2,0': contour20, '2,1': contour21, '3,0': contour30, '3,1': contour31, '3,2': contour32,
  '4,0': contour40, '4,1': contour41, '4,2': contour42, '4,3': contour43,
  '5,0': dome0, '5,1': dome1, '5,2': dome2, '5,3': dome3, '5,4': contour54,
  '6,0': dome0, '6,1': dome1, '6,2': dome2, '6,3': dome3, '6,4': contour64,
  '7,0': contour70, '7,1': contour71, '7,2': contour72, '7,3': contour73, '7,4': contour74, '7,5': contour75, '7,6': contour76
};
const bottomStrips = [stripParallax, stripLstar1pc, stripLstar, stripRstar, stripDisk, stripDisk, stripDisk];

const SIZE = 200, STEP = 210, LEFT = 100, TOP = 40;
const FONT = '"DejaVu Sans"';
Chart.defaults.font.family = FONT;
Chart.defaults.font.size = 13.9;
Chart.defaults.color = '#000';

function binValue(axis, u) {
  const r = ranges[axis];
  return r[0] + (r[1] - r[0]) * u / 20;
}

const measure = document.createElement('canvas').getContext('2d');
function labelWidth(text) {
  measure.font = '13.9px ' + FONT;
  return measure.measureText(text).width;
}

// frame, mathtext style titles and the 1e-5 offset labels
const panelText = {
  id: 'panelText',
  afterDraw(chart, args, opts) {
    const ctx = chart.ctx, a = chart.chartArea;
    ctx.save();
    ctx.strokeStyle = '#000';
    ctx.lineWidth = 1.1;
    ctx.strokeRect(a.left, a.top, a.right - a.left, a.bottom - a.top);
    ctx.fillStyle = '#000';
    if (opts.title) {
      const [main, up, down] = opts.title;
      ctx.font = '16.67px ' + FONT;
      const w = ctx.measureText(main).width;
      ctx.font = '11.67px ' + FONT;
      const w2 = Math.max(ctx.measureText(up).width, ctx.measureText(down).width);
      const x = (a.left + a.right) / 2 - (w + w2) / 2;
      ctx.font = '16.67px ' + FONT;
      ctx.fillText(main, x, a.top - 9);
      ctx.font = '11.67px ' + FONT;
      ctx.fillText(up, x + w, a.top - 15);
      ctx.fillText(down, x + w, a.top - 5);
    }
    ctx.font = '13.9px ' + FONT;
    if (opts.offsetTop) {
      ctx.fillText(opts.offsetTop, a.left + 1, a.top - 4);
    }
    if (opts.offsetBottom) {
      ctx.textAlign = 'right';
      ctx.fillText(opts.offsetBottom, a.right, a.bottom + 50);
    }
    ctx.restore();
  }
};
Chart.register(panelText);

function axisOptions(axis, showLabels, isX) {
  const labels = tickLabels[axis];
  const values = labels.map(Number);
  const offset = isX ? labelWidth(labels[0]) / 2 * Math.SQRT1_2 : 0;
  return {
    type: 'linear',
    min: ranges[axis][0],
    max: ranges[axis][1],
    afterBuildTicks: s => { s.ticks = values.map(v => ({ value: v })); },
    ticks: {
      display: showLabels,
      autoSkip: false,
      minRotation: 45,
      maxRotation: 45,
      padding: 4,
      labelOffset: offset,
      color: '#000',
      callback: (v, i) => labels[i]
    },
    grid: { drawOnChartArea: false, drawTicks: true, tickLength: 5, tickWidth: 1.1, tickColor: '#000' },
    border: { display: false },
    title: {
      display: showLabels,
      text: names[axis],
      color: '#000',
      padding: isX ? { top: 0, bottom: 24.7 } : { top: 23.7, bottom: 0 }
    }
  };
}

function makePanel(row, col) {
  const diag = row === col;
  const padL = col === 0 ? 100 : (diag ? 40 : 12);
  // the big cell points make chart.js keep 7.15px free on the right, so leave at least that
  const padR = diag ? 45 : 8;
  const padT = TOP;
  const padB = row === 7 ? 99 : (col === 0 ? 30 : 8);
  const canvas = document.createElement('canvas');
  canvas.width = padL + SIZE + padR;
  canvas.height = padT + SIZE + padB;
  canvas.style.left = (LEFT + col * STEP - padL) + 'px';
  canvas.style.top = (TOP + row * STEP - padT) + 'px';
  document.getElementById('corner').appendChild(canvas);

  const datasets = [];
  const xScale = axisOptions(col, row === 7, true);
  xScale.afterFit = s => { s.height = padB; s.paddingLeft = 0; s.paddingRight = 0; };
  let yScale;

  if (diag) {
    const h = hists[col];
    const points = h.map((v, i) => ({ x: binValue(col, i), y: v }));
    points.push({ x: binValue(col, 20), y: h[19] });
    datasets.push({ data: points, showLine: true, stepped: true, borderColor: '#000', borderWidth: 1.4, pointRadius: 0 });
    yScale = { type: 'linear', display: false, min: 0, max: Math.max(...h) * 1.1 };
  } else {
    yScale = axisOptions(row, col === 0, false);
    yScale.afterFit = s => { s.width = padL; s.paddingTop = 0; s.paddingBottom = 0; };
    // first dataset is painted last, so contours go in first
    (panelContours[row + ',' + col] || []).forEach(line => {
      datasets.push({
        data: line.map(p => ({ x: binValue(col, p[0]), y: binValue(row, p[1]) })),
        showLine: true, borderColor: '#000', borderWidth: 2.1, pointRadius: 0, tension: 0
      });
    });
    let rows = panelGrids[row + ',' + col];
    if (!rows && bottomStrips[col]) rows = [bottomStrips[col]];
    const cells = [], colors = [];
    rows.forEach((text, r) => {
      const rowIndex = rows.length === 1 ? 19 : r;
      for (let c = 0; c < 20; c++) {
        const level = parseInt(text[c], 16) || 0;
        if (!level) continue;
        const g = shades[level];
        cells.push({ x: binValue(col, c + 0.5), y: binValue(row, 19.5 - rowIndex) });
        colors.push('rgb(' + g + ',' + g + ',' + g + ')');
      }
    });
    datasets.push({ data: cells, pointStyle: 'rect', pointRadius: 7.15, pointBorderWidth: 0, pointBackgroundColor: colors });
    const xs = samples[col], ys = samples[row], dots = [];
    for (let k = 0; k < Math.min(xs.length, ys.length); k++) dots.push({ x: xs[k], y: ys[k] });
    datasets.push({ data: dots, pointRadius: 1.5, pointBorderWidth: 0, pointBackgroundColor: 'rgba(0,0,0,0.12)' });
  }

  new Chart(canvas, {
    type: 'scatter',
    data: { datasets },
    options: {
      responsive: false,
      animation: false,
      devicePixelRatio: 1,
      events: [],
      layout: { padding: { left: diag ? padL : 0, right: padR, top: padT, bottom: 0 } },
      plugins: {
        legend: { display: false },
        tooltip: { enabled: false },
        panelText: {
          title: diag ? titles[col] : null,
          offsetTop: row === 1 && col === 0 ? '1e\u22125' : null,
          offsetBottom: row === 7 && col === 1 ? '1e\u22125' : null
        }
      },
      scales: { x: xScale, y: yScale }
    }
  });
}

for (let row = 0; row < 8; row++) {
  for (let col = 0; col <= row; col++) makePanel(row, col);
}
</script>
</body>
</html>
